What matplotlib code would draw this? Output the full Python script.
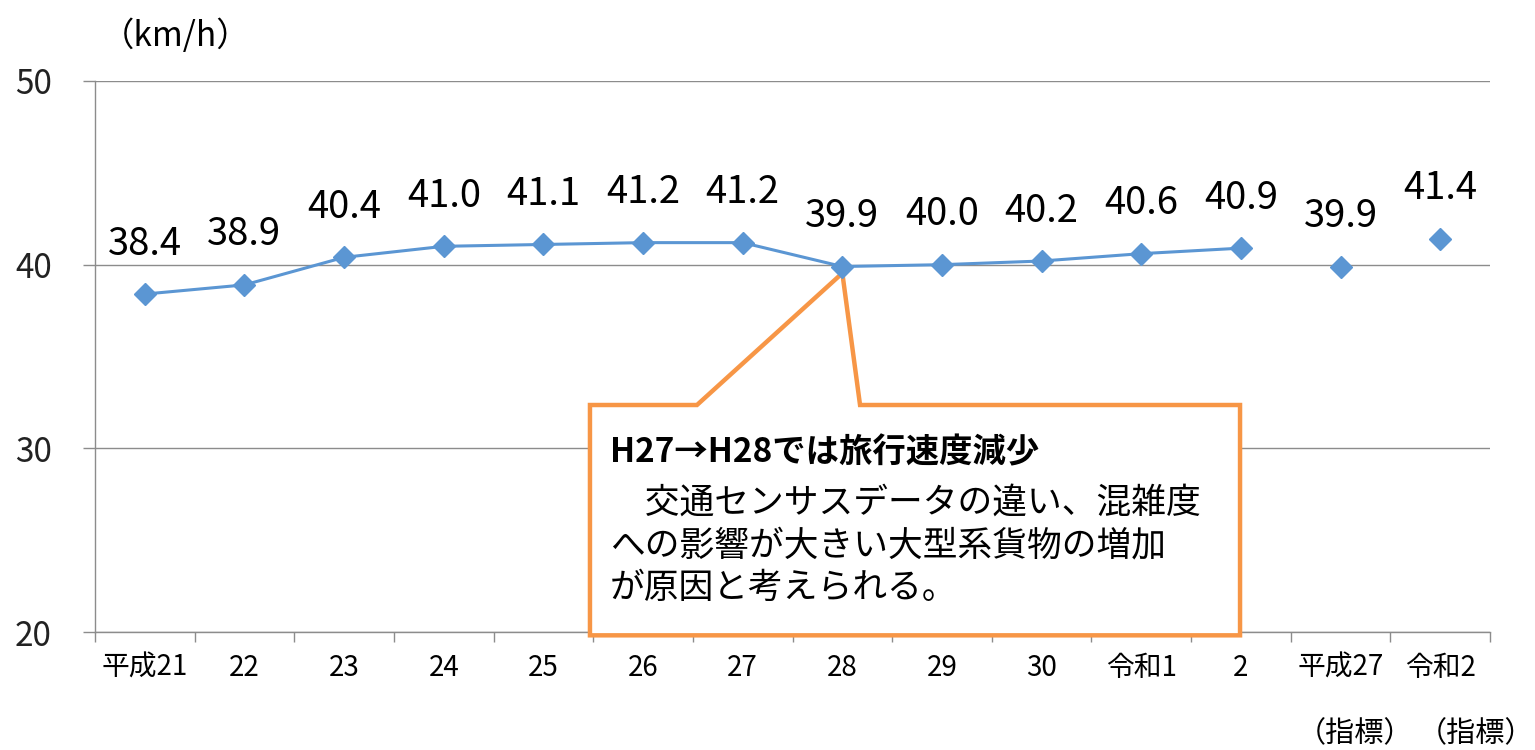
import numpy as np
import matplotlib
matplotlib.use("Agg")
import matplotlib.pyplot as plt
from matplotlib.patches import Polygon

plt.rcParams['font.family'] = ['Noto Sans CJK JP', 'DejaVu Sans']

# ---------------- data ----------------
categories = ["平成21", "22", "23", "24", "25", "26", "27", "28", "29", "30",
              "令和1", "2", "平成27", "令和2"]
speed_series = [38.4, 38.9, 40.4, 41.0, 41.1, 41.2, 41.2, 39.9, 40.0, 40.2, 40.6, 40.9]
speed_index = [39.9, 41.4]            # 指標 values (平成27, 令和2)
index_note = "（指標）"
y_ticks = [20, 30, 40, 50]
unit_label = "（km/h）"
note_title = "H27→H28では旅行速度減少"
note_body = "　交通センサスデータの違い、混雑度\nへの影響が大きい大型系貨物の増加\nが原因と考えられる。"
callout_at = 7                        # category index the callout points to (28)

BLUE, ORANGE, GRAY = "#5B96D3", "#F79646", "#8C8C8C"

fig = plt.figure(figsize=(15.35, 7.5), dpi=100)
ax = fig.add_axes([0.0619, 0.1573, 0.9088, 0.7347])

x_line = np.arange(len(speed_series))
x_idx = np.arange(len(speed_series), len(categories))

ax.plot(x_line, speed_series, color=BLUE, lw=2.2, marker="D", ms=11, zorder=5)
ax.plot(x_idx, speed_index, ls="none", color=BLUE, marker="D", ms=11, zorder=5)

for xs, ys in [(x_line, speed_series), (x_idx, speed_index)]:
    for xv, yv in zip(xs, ys):
        ax.annotate(f"{yv:.1f}", (xv, yv), xytext=(0, 36), textcoords="offset points",
                    ha="center", va="center", fontsize=27.5, color="black", zorder=6)

ax.set_xlim(-0.5, len(categories) - 0.5)
ax.set_ylim(20, 50)
ax.set_yticks(y_ticks)
ax.set_xticks(np.arange(len(categories)))
ax.set_xticklabels(categories, fontsize=20)
ax.set_xticks(np.arange(-0.5, len(categories)), minor=True)
ax.tick_params(axis="x", which="major", length=0, pad=15)
ax.tick_params(axis="x", which="minor", length=7, width=1, color=GRAY, direction="out")
ax.tick_params(axis="y", length=9, width=1, color=GRAY, labelsize=24, pad=22)
for lab in ax.get_yticklabels():
    lab.set_color("#222222")

for s in ["top", "right"]:
    ax.spines[s].set_visible(False)
for s in ["left", "bottom"]:
    ax.spines[s].set_color(GRAY)
    ax.spines[s].set_linewidth(1.0)
ax.yaxis.grid(True, color=GRAY, lw=1.0)
ax.set_axisbelow(True)

# callout box with pointer to the 28 point
tip = ax.transAxes.inverted().transform(
    ax.transData.transform((callout_at, speed_series[callout_at])))
tip = (tip[0], tip[1] - 0.012)
bl, br, bt, bb = 0.3548, 0.8208, 0.412, -0.006
wl, wr = 0.4315, 0.5484
verts = [(bl, bt), (wl, bt), tip, (wr, bt), (br, bt), (br, bb), (bl, bb)]
box = Polygon(verts, closed=True, transform=ax.transAxes, facecolor="white",
              edgecolor=ORANGE, lw=3.2, joinstyle="miter", clip_on=False, zorder=4)
ax.add_patch(box)

ax.text(0.369, 0.325, note_title, transform=ax.transAxes, fontsize=24,
        fontweight="bold", ha="left", va="center", zorder=6)
ax.text(0.369, 0.265, note_body, transform=ax.transAxes, fontsize=25,
        ha="left", va="top", linespacing=1.27, zorder=6)

fig.text(176 / 1535, 1 - 36 / 750, unit_label, fontsize=24, ha="center", va="center")
for xc in [1355, 1476]:
    fig.text(xc / 1535, 1 - 734 / 750, index_note, fontsize=21, ha="center", va="center")

fig.savefig("out.png", dpi=100)
